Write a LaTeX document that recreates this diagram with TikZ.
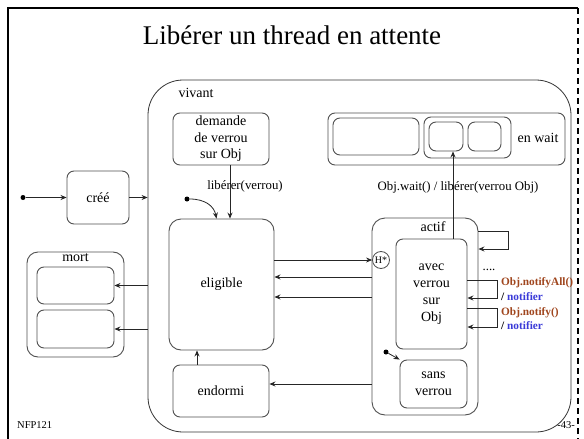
\documentclass[tikz,border=0pt]{standalone}
\usepackage{fontspec}
\setmainfont{Liberation Serif}
\usetikzlibrary{arrows.meta}
\definecolor{boxgray}{HTML}{505050}
\definecolor{notifybrown}{HTML}{A0461E}
\definecolor{notifyblue}{HTML}{3A3AD8}
\begin{document}
\begin{tikzpicture}[x=1pt,y=-1pt,
  box/.style={draw=boxgray, line width=0.9pt, rounded corners=7pt, inner sep=0pt, align=center, font=\fontsize{14}{16.5}\selectfont},
  arr/.style={-{Stealth[length=6pt,width=5pt]}, line width=0.8pt, draw=black!85},
  lbl/.style={inner sep=0pt, font=\fontsize{12.8}{14}\selectfont},
  slbl/.style={inner sep=0pt, font=\fontsize{14}{16}\selectfont},
  nlbl/.style={inner sep=0pt, anchor=west, font=\fontsize{11.3}{13}\selectfont\bfseries},
  dot/.style={circle, fill=black, inner sep=0pt, minimum size=5pt}]
\useasboundingbox (0,0) rectangle (584,439);
\fill[white] (0,0) rectangle (584,439);
% frame
\draw[line width=2pt] (8,439) -- (8,8) coordinate (fa) -- (578,8) coordinate (fb);
\draw[line width=2pt, dash pattern=on 6pt off 4pt] (578,8) -- (578,439);
\node[inner sep=0pt, font=\fontsize{27}{30}\selectfont] (title) at (292,35) {Libérer un thread en attente};
\node[inner sep=0pt, anchor=west, font=\fontsize{10.5}{12}\selectfont] (nfp) at (17,425) {NFP121};
\node[inner sep=0pt, anchor=east, font=\fontsize{10.5}{12}\selectfont] (page) at (575,425) {-43-};

% vivant
\node[draw=black!80, line width=0.8pt, rounded corners=35pt, minimum width=423pt, minimum height=352pt] (vivant) at (359.5,256) {};
\node[slbl] (vivantlbl) at (196,93) {vivant};

% left states
\node[box, minimum width=62pt, minimum height=53pt] (cree) at (98,197.5) {créé};
\node[dot] (init1) at (23,197.5) {};
\node[box, rounded corners=11pt, minimum width=97pt, minimum height=105pt] (mort) at (75.5,304.5) {};
\node[slbl] (mortlbl) at (75.5,258) {mort};
\node[box, minimum width=77pt, minimum height=37pt] (mort1) at (75.5,285.5) {};
\node[box, minimum width=77pt, minimum height=38pt] (mort2) at (75.5,329) {};

% inner states
\node[box, minimum width=96pt, minimum height=52pt] (demande) at (221,139) {demande\\de verrou\\sur Obj};
\node[box, rounded corners=12pt, minimum width=105pt, minimum height=131pt] (eligible) at (221.5,284.5) {eligible};
\node[box, minimum width=96pt, minimum height=52pt] (endormi) at (221,391) {endormi};
\node[dot] (init2) at (187,199) {};

% en wait
\node[box, minimum width=237pt, minimum height=52pt] (enwait) at (446.5,139) {};
\node[box, minimum width=86pt, minimum height=37pt] (w1) at (376,136.5) {};
\node[box, minimum width=87pt, minimum height=41pt] (wg) at (467.5,137.5) {};
\node[box, minimum width=34pt, minimum height=29pt] (wa) at (446,136.5) {};
\node[box, minimum width=33pt, minimum height=29pt] (wb) at (484.5,136.5) {};
\node[slbl] (enwaitlbl) at (538,138) {en wait};

% actif
\node[box, rounded corners=13pt, minimum width=106pt, minimum height=197pt] (actif) at (425,316.5) {};
\node[slbl] (actiflbl) at (433,227) {actif};
\node[box, minimum width=71pt, minimum height=110pt, font=\fontsize{14}{17}\selectfont] (avec) at (431.5,294) {avec\\verrou\\sur\\Obj};
\node[box, minimum width=67pt, minimum height=48pt] (sans) at (433.5,384) {sans\\verrou};
\node[draw=boxgray, line width=0.8pt, circle, fill=white, minimum size=17pt, inner sep=0pt, font=\fontsize{10}{11}\selectfont] (H) at (381,260) {H*};
\node[dot] (init3) at (386,352) {};

% connectors
\draw[arr] (init1) -- (cree.west);
\draw[arr] (cree.east) -- (cree.east -| vivant.west);
\draw[arr] (vivant.west |- mort1.east) -- (mort1.east);
\draw[arr] (vivant.west |- mort2.east) -- (mort2.east);
\draw[arr] ([xshift=9pt]demande.south) -- ([xshift=9pt]demande.south |- eligible.north);
\node[lbl] (liblbl) at (245,186) {libérer(verrou)};
\draw[arr] (init2) .. controls (205,199) and (214,206) .. ([xshift=-5pt]eligible.north);
\draw[arr] (eligible.east |- H.west) -- (H.west);
\draw[arr] (actif.west |- 0,277) -- (eligible.east |- 0,277);
\draw[arr] (actif.west |- 0,297) -- (eligible.east |- 0,297);
\draw[arr] (actif.west |- 0,384) -- (endormi.east |- 0,384);
\draw[arr] ([xshift=-24pt]endormi.north) -- ([xshift=-24pt]endormi.north |- eligible.south);
\draw[arr] ([xshift=21.5pt]avec.north) -- ([xshift=21.5pt]avec.north |- wa.south);
\node[lbl] (waitlbl) at (458,187) {Obj.wait() / libérer(verrou Obj)};
\draw[arr] (actif.east |- 0,231) -- (508,231) -- (508,249) -- (actif.east |- 0,249);
\node[lbl] (dots) at (489,270) {....};
\draw[arr] (avec.east |- 0,280) -- (497,280) -- (497,298) -- (avec.east |- 0,298);
\draw[arr] (avec.east |- 0,308) -- (497,308) -- (497,327) -- (avec.east |- 0,327);
\node[nlbl, text=notifybrown] (na) at (501,283) {Obj.notifyAll()};
\node[nlbl, text=notifyblue] (nb) at (501,297) {\textcolor{black}{/} notifier};
\node[nlbl, text=notifybrown] (nc) at (501,313) {Obj.notify()};
\node[nlbl, text=notifyblue] (nd) at (501,326) {\textcolor{black}{/} notifier};
\draw[arr] (init3) -- (sans.north west);
\end{tikzpicture}
\end{document}
